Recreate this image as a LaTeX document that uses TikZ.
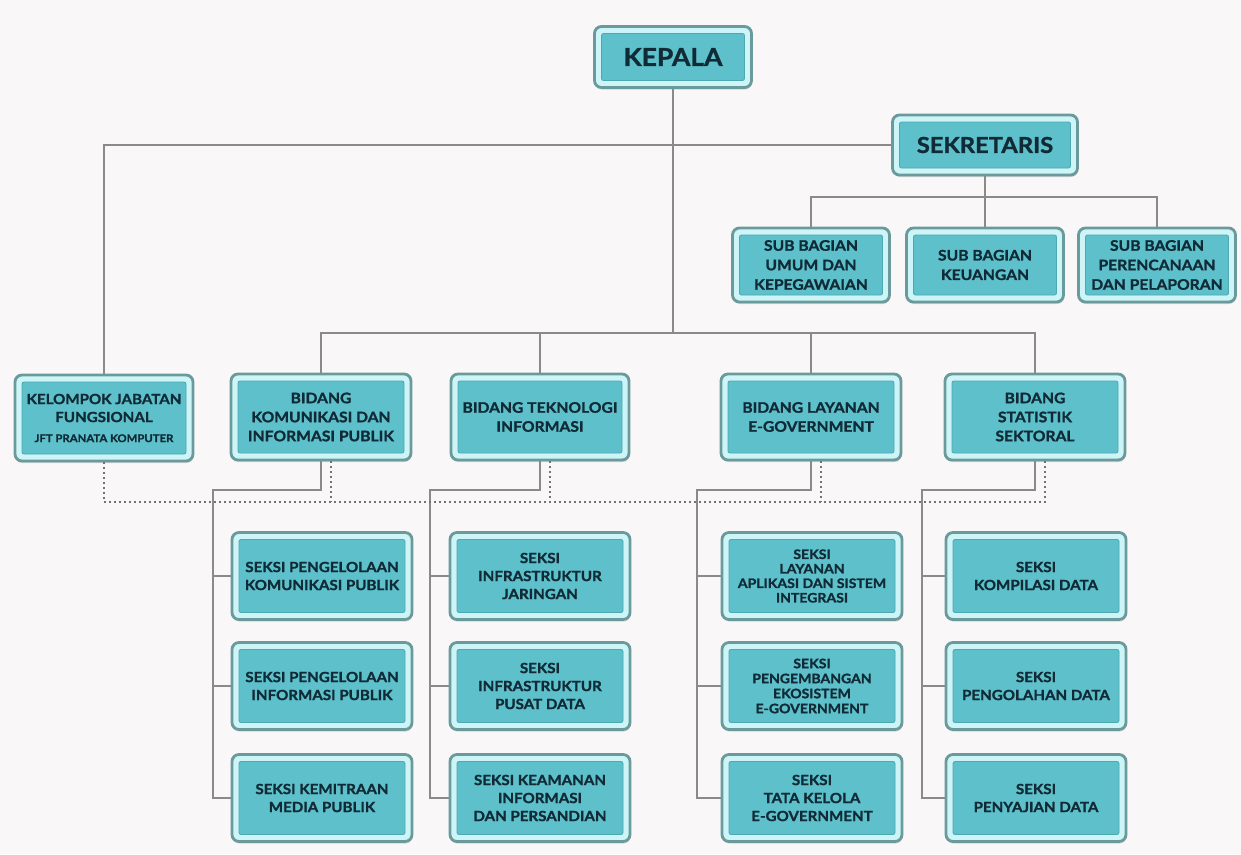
\documentclass[tikz,border=0pt]{standalone}
\usepackage{fontspec}
\setmainfont{Lato}
\newfontfamily\boxfont{Lato Bold}[FakeBold=1.2, FakeStretch=1.08]
\usetikzlibrary{shadows}
\definecolor{bg}{HTML}{F9F7F8}
\definecolor{boxedge}{HTML}{6A9A9B}
\definecolor{boxband}{HTML}{CDF4F7}
\definecolor{boxin}{HTML}{5DC0CA}
\definecolor{boxinedge}{HTML}{4FA7AF}
\definecolor{txt}{HTML}{102A36}
\definecolor{conn}{HTML}{8A8A8A}
\tikzset{
  orgbox/.style={draw=boxedge, line width=2.8pt, fill=boxband, rounded corners=7pt,
    align=center, inner sep=0pt, text=txt,
    font=\boxfont\fontsize{14}{18}\selectfont,
    drop shadow={shadow xshift=0.5pt, shadow yshift=-2pt, fill=black!25, opacity=0.6},
    path picture={
      \filldraw[fill=boxin, draw=boxinedge, line width=0.8pt, rounded corners=2pt]
        ([shift={(7pt,-7pt)}]path picture bounding box.north west) rectangle
        ([shift={(-7pt,7pt)}]path picture bounding box.south east);
    }},
  bigbox/.style={orgbox, font=\boxfont\fontsize{22}{24}\selectfont},
  rowbox/.style={orgbox, minimum width=180pt, minimum height=87pt},
  bidbox/.style={rowbox, minimum height=86pt, font=\boxfont\fontsize{14.5}{19}\selectfont},
  subbox/.style={orgbox, minimum width=157pt, minimum height=74pt, font=\boxfont\fontsize{14.5}{19.5}\selectfont},
  conline/.style={draw=conn, line width=1.8pt},
  dotline/.style={draw=black!55, line width=2.2pt, dash pattern=on 2pt off 3pt},
}
\begin{document}
\begin{tikzpicture}[x=1pt, y=-1pt]
\fill[bg] (0,0) rectangle (1241,854);
\useasboundingbox (0,0) rectangle (1241,854);

% top
\node[bigbox, minimum width=157pt, minimum height=61pt, font=\boxfont\fontsize{24.5}{26}\selectfont] (kepala) at (673,57) {KEPALA};
\node[bigbox, minimum width=185pt, minimum height=60pt] (sekretaris) at (985,145) {SEKRETARIS};

% sub bagian
\node[subbox] (sub1) at (811,265) {SUB BAGIAN\\UMUM DAN\\KEPEGAWAIAN};
\node[subbox] (sub2) at (985,265) {SUB BAGIAN\\KEUANGAN};
\node[subbox] (sub3) at (1157,265) {SUB BAGIAN\\PERENCANAAN\\DAN PELAPORAN};

% bidang row
\node[bidbox, minimum width=178pt, font=\boxfont\fontsize{14}{18}\selectfont] (kelompok) at (104,418)
  {KELOMPOK JABATAN\\FUNGSIONAL\\[2pt]{\fontsize{10.5}{12}\selectfont JFT PRANATA KOMPUTER}};
\node[bidbox] (komunikasi) at (321,417) {BIDANG\\KOMUNIKASI DAN\\INFORMASI PUBLIK};
\node[bidbox, minimum width=178pt] (teknologi) at (540,417) {BIDANG TEKNOLOGI\\INFORMASI};
\node[bidbox] (layanan) at (811,417) {BIDANG LAYANAN\\E-GOVERNMENT};
\node[bidbox] (statistik) at (1035,417) {BIDANG\\STATISTIK\\SEKTORAL};

% seksi columns
\node[rowbox] (s11) at (322,576) {SEKSI PENGELOLAAN\\KOMUNIKASI PUBLIK};
\node[rowbox] (s12) at (322,686) {SEKSI PENGELOLAAN\\INFORMASI PUBLIK};
\node[rowbox] (s13) at (322,798) {SEKSI KEMITRAAN\\MEDIA PUBLIK};

\node[rowbox] (s21) at (540,576) {SEKSI\\INFRASTRUKTUR\\JARINGAN};
\node[rowbox] (s22) at (540,686) {SEKSI\\INFRASTRUKTUR\\PUSAT DATA};
\node[rowbox] (s23) at (540,798) {SEKSI KEAMANAN\\INFORMASI\\DAN PERSANDIAN};

\node[rowbox, font=\boxfont\fontsize{13}{14.5}\selectfont] (s31) at (812,576) {SEKSI\\LAYANAN\\APLIKASI DAN SISTEM\\INTEGRASI};
\node[rowbox, font=\boxfont\fontsize{13}{15}\selectfont] (s32) at (812,686) {SEKSI\\PENGEMBANGAN\\EKOSISTEM\\E-GOVERNMENT};
\node[rowbox] (s33) at (812,798) {SEKSI\\TATA KELOLA\\E-GOVERNMENT};

\node[rowbox] (s41) at (1036,576) {SEKSI\\KOMPILASI DATA};
\node[rowbox] (s42) at (1036,686) {SEKSI\\PENGOLAHAN DATA};
\node[rowbox] (s43) at (1036,798) {SEKSI\\PENYAJIAN DATA};

% bus coordinates
\coordinate (kbus) at (673,333);
\coordinate (sbus) at (985,197);
\coordinate (t1) at (213,490);
\coordinate (t2) at (430,490);
\coordinate (t3) at (697,490);
\coordinate (t4) at (922,490);
\coordinate (dR) at (1045,502);

% solid connectors
\draw[conline] (kepala.south) -- (kbus);
\draw[conline] (komunikasi.north) |- (kbus) -| (statistik.north);
\draw[conline] (teknologi.north) -- (teknologi.north |- kbus);
\draw[conline] (layanan.north) -- (layanan.north |- kbus);
\draw[conline] (sekretaris.west) -| (kelompok.north);
\draw[conline] (sekretaris.south) -- (sub2.north);
\draw[conline] (sub1.north) |- (sbus) -| (sub3.north);

\draw[conline] (komunikasi.south) |- (t1) |- (s13.west);
\draw[conline] (t1 |- s11.west) -- (s11.west);
\draw[conline] (t1 |- s12.west) -- (s12.west);
\draw[conline] (teknologi.south) |- (t2) |- (s23.west);
\draw[conline] (t2 |- s21.west) -- (s21.west);
\draw[conline] (t2 |- s22.west) -- (s22.west);
\draw[conline] (layanan.south) |- (t3) |- (s33.west);
\draw[conline] (t3 |- s31.west) -- (s31.west);
\draw[conline] (t3 |- s32.west) -- (s32.west);
\draw[conline] (statistik.south) |- (t4) |- (s43.west);
\draw[conline] (t4 |- s41.west) -- (s41.west);
\draw[conline] (t4 |- s42.west) -- (s42.west);

% dotted connectors
\draw[dotline] (kelompok.south) |- (dR) -- (dR |- statistik.south);
\draw[dotline] ([xshift=10pt]komunikasi.south) -- ([xshift=10pt]komunikasi.south |- dR);
\draw[dotline] ([xshift=10pt]teknologi.south) -- ([xshift=10pt]teknologi.south |- dR);
\draw[dotline] ([xshift=10pt]layanan.south) -- ([xshift=10pt]layanan.south |- dR);
\end{tikzpicture}
\end{document}
